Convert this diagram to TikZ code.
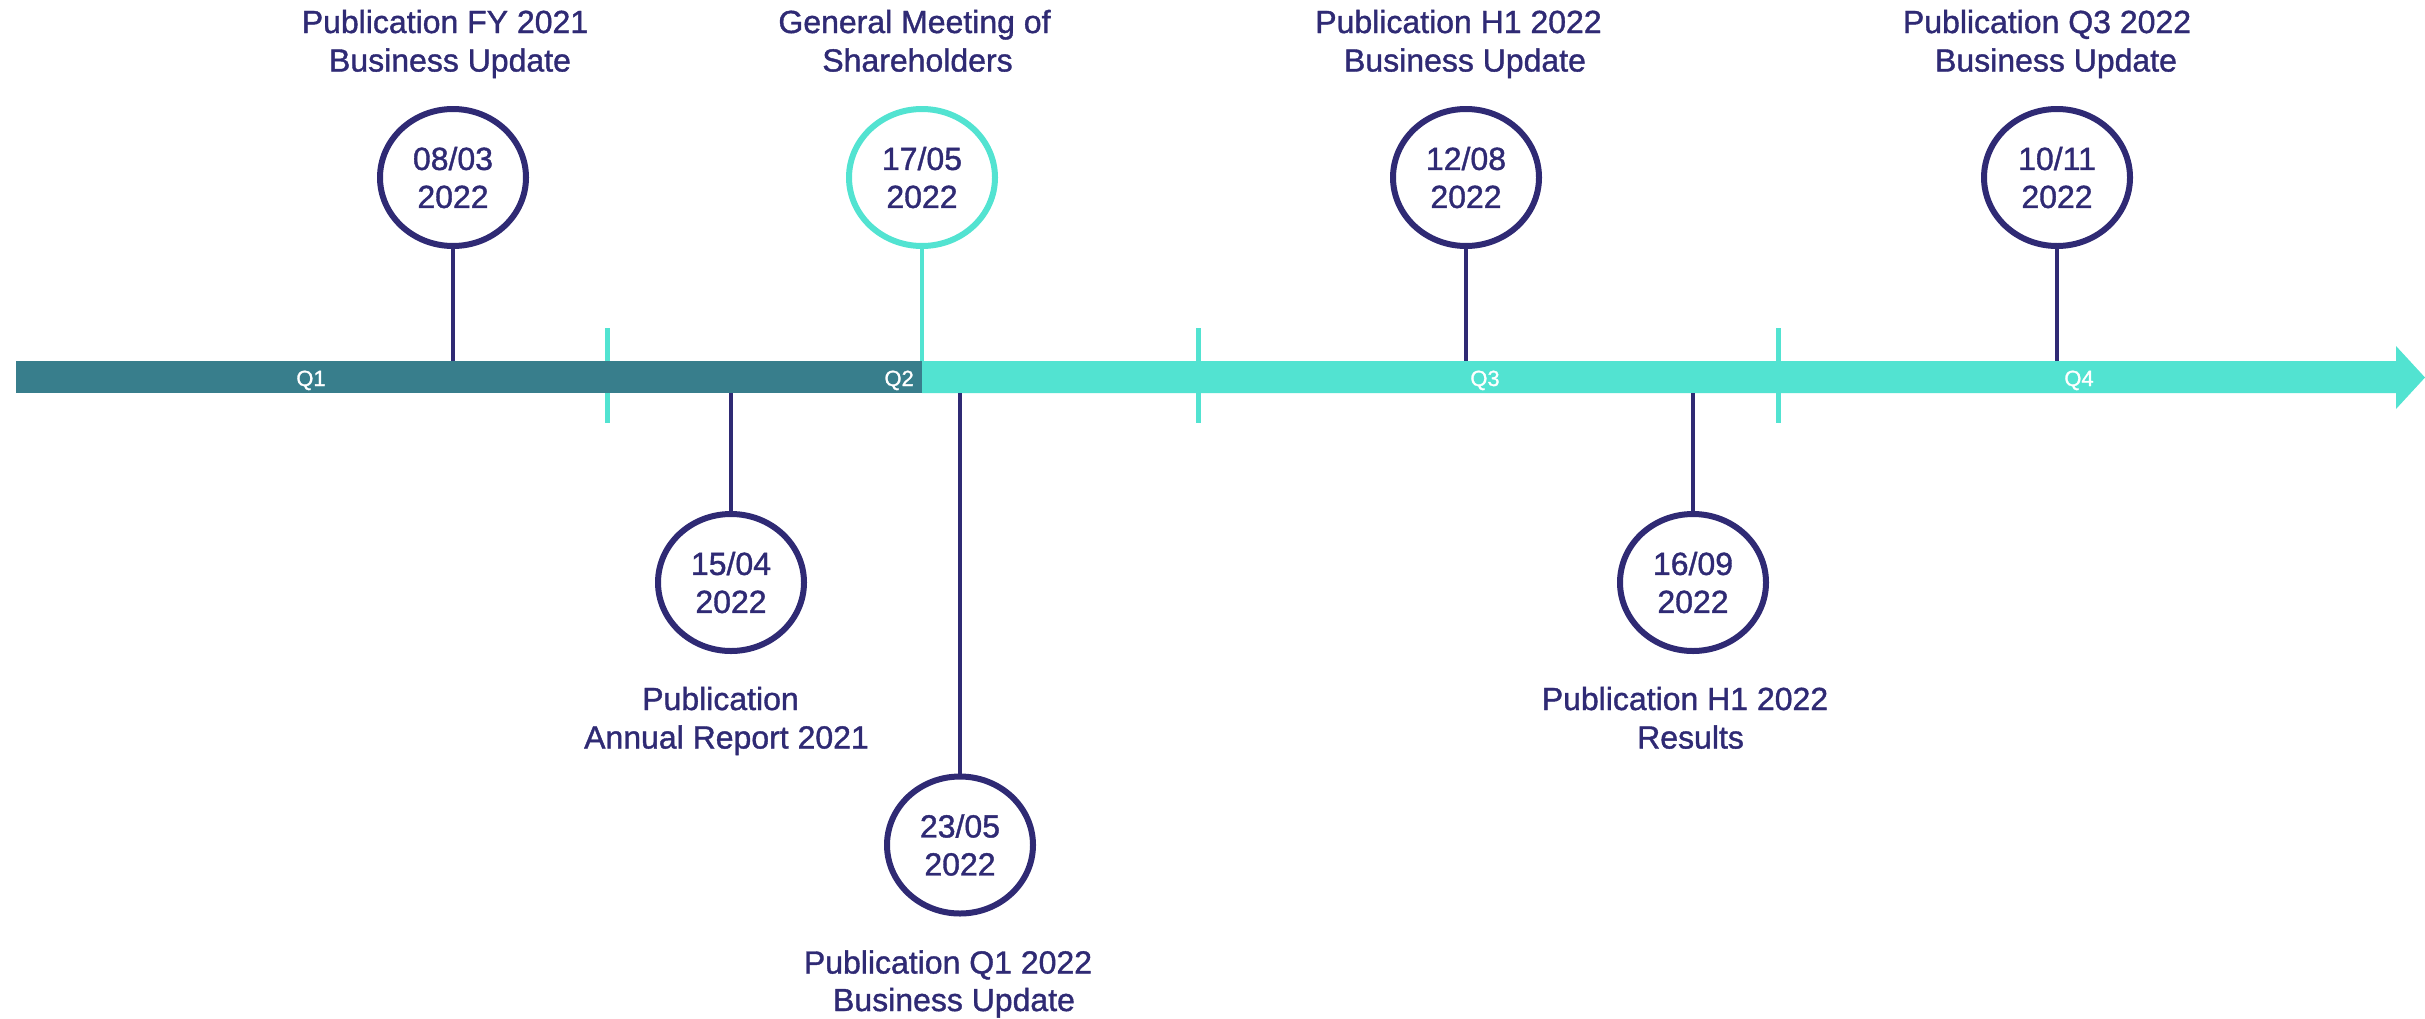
\documentclass[tikz,border=0pt]{standalone}
\usepackage{fontspec}
\setmainfont{Liberation Sans}
\newfontfamily\semib{Liberation Sans}[FakeBold=1.2]
\usetikzlibrary{shapes.geometric}
\definecolor{navy}{RGB}{47,42,116}
\definecolor{lteal}{RGB}{82,227,209}
\definecolor{dteal}{RGB}{56,126,140}
\begin{document}
\begin{tikzpicture}[x=1pt,y=-1pt,
  datebox/.style={ellipse, draw=navy, fill=white, line width=6pt, minimum width=146pt, minimum height=137pt, inner sep=0pt, align=center, text=navy, font=\semib\fontsize{32}{38}\selectfont},
  lbl/.style={anchor=base, inner sep=0pt, text=navy, font=\semib\fontsize{32}{38}\selectfont},
  qlbl/.style={anchor=base, inner sep=0pt, text=white, font=\semib\fontsize{22}{26}\selectfont},
  conn/.style={draw=navy, line width=4.5pt},
  tconn/.style={draw=lteal, line width=4pt},
  tick/.style={draw=lteal, line width=5pt}
]
\useasboundingbox (0,0) rectangle (2425,1018);

% quarter ticks
\coordinate (k1a) at (607,328); \coordinate (k1b) at (607,423);
\coordinate (k2a) at (1198,328); \coordinate (k2b) at (1198,423);
\coordinate (k3a) at (1778,328); \coordinate (k3b) at (1778,423);
\draw[tick] (k1a) -- (k1b);
\draw[tick] (k2a) -- (k2b);
\draw[tick] (k3a) -- (k3b);

% bar
\fill[dteal] (16,361) rectangle (922,393);
\fill[lteal] (922,361) -- (2396,361) -- (2396,346) -- (2425,377.5) -- (2396,409) -- (2396,393) -- (922,393) -- cycle;

\node[qlbl] (q1) at (311,386) {Q1};
\node[qlbl, anchor=base east] (q2) at (914,386) {Q2};
\node[qlbl] (q3) at (1485,386) {Q3};
\node[qlbl] (q4) at (2079,386) {Q4};

% anchor points on the bar
\coordinate (b1) at (453,361);
\coordinate (b2) at (731,393);
\coordinate (b3) at (922,361);
\coordinate (b4) at (960,393);
\coordinate (b5) at (1466,361);
\coordinate (b6) at (1693,393);
\coordinate (b7) at (2057,361);

% date circles
\node[datebox] (c1) at (453,177.5) {08/03\\2022};
\node[datebox, draw=lteal] (c3) at (922,177.5) {17/05\\2022};
\node[datebox] (c5) at (1466,177.5) {12/08\\2022};
\node[datebox] (c7) at (2057,177.5) {10/11\\2022};
\node[datebox] (c2) at (731,582.5) {15/04\\2022};
\node[datebox] (c6) at (1693,582.5) {16/09\\2022};
\node[datebox] (c4) at (960,845) {23/05\\2022};

% connectors
\draw[conn] (c1.south) -- (b1);
\draw[tconn] (c3.south) -- (b3);
\draw[conn] (c5.south) -- (b5);
\draw[conn] (c7.south) -- (b7);
\draw[conn] (b2) -- (c2.north);
\draw[conn] (b4) -- (c4.north);
\draw[conn] (b6) -- (c6.north);

% labels
\node[lbl] (l1a) at (445,33) {Publication FY 2021};
\node[lbl] (l1b) at (450,71.5) {Business Update};
\node[lbl] (l3a) at (914.5,33) {General Meeting of};
\node[lbl] (l3b) at (917.5,71.5) {Shareholders};
\node[lbl] (l5a) at (1458.5,33) {Publication H1 2022};
\node[lbl] (l5b) at (1465,71.5) {Business Update};
\node[lbl] (l7a) at (2047,33) {Publication Q3 2022};
\node[lbl] (l7b) at (2056,71.5) {Business Update};
\node[lbl] (l2a) at (720.5,710) {Publication};
\node[lbl] (l2b) at (726.5,748.5) {Annual Report 2021};
\node[lbl] (l6a) at (1685,710) {Publication H1 2022};
\node[lbl] (l6b) at (1690.5,748.5) {Results};
\node[lbl] (l4a) at (948,973.5) {Publication Q1 2022};
\node[lbl] (l4b) at (954,1011) {Business Update};
\end{tikzpicture}
\end{document}
